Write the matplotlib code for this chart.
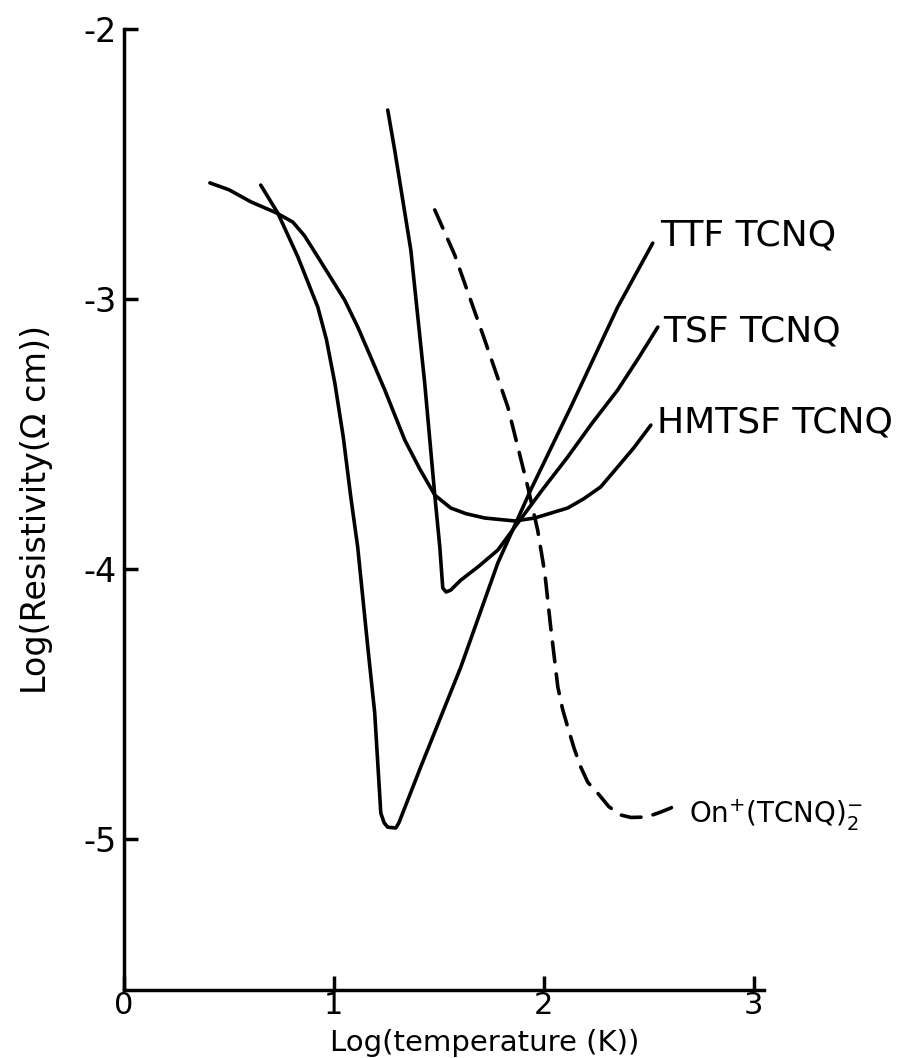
import numpy as np
import matplotlib
matplotlib.use('Agg')
import matplotlib.pyplot as plt

plt.rcParams['font.family'] = ['DejaVu Sans']
plt.rcParams['mathtext.fontset'] = 'dejavusans'
plt.rcParams['axes.unicode_minus'] = False

# log T / log rho values
hmtsf_x = [0.41, 0.5, 0.605, 0.724, 0.805, 0.86, 0.924, 1.052, 1.115, 1.176, 1.243, 1.338,
           1.41, 1.481, 1.557, 1.63, 1.719, 1.862, 1.957, 2.114, 2.19, 2.271, 2.352, 2.43, 2.51]
hmtsf_y = [-2.57, -2.595, -2.64, -2.68, -2.715, -2.765, -2.844, -3.004, -3.105, -3.215, -3.337, -3.522,
           -3.63, -3.726, -3.774, -3.795, -3.811, -3.822, -3.811, -3.774, -3.74, -3.696, -3.622, -3.55, -3.467]

ttf_x = [0.652, 0.733, 0.829, 0.924, 0.965, 1.005, 1.045, 1.081, 1.114, 1.162, 1.195, 1.224,
         1.24, 1.257, 1.295, 1.31, 1.414, 1.605, 1.781, 1.938, 2.129, 2.352, 2.519]
ttf_y = [-2.578, -2.681, -2.844, -3.03, -3.15, -3.311, -3.51, -3.733, -3.919, -4.289, -4.533, -4.904,
         -4.94, -4.956, -4.959, -4.94, -4.733, -4.363, -3.978, -3.707, -3.4, -3.03, -2.793]

tsf_x = [1.257, 1.29, 1.367, 1.433, 1.481, 1.505, 1.519, 1.535, 1.557, 1.605, 1.69, 1.781,
         1.876, 1.99, 2.114, 2.23, 2.352, 2.45, 2.543]
tsf_y = [-2.3, -2.448, -2.819, -3.311, -3.726, -3.919, -4.07, -4.085, -4.078, -4.041, -3.99, -3.93,
         -3.83, -3.71, -3.585, -3.46, -3.337, -3.22, -3.104]

on_x = [1.481, 1.576, 1.719, 1.829, 1.924, 1.971, 2.005, 2.033, 2.067, 2.09, 2.114, 2.145,
        2.176, 2.21, 2.257, 2.31, 2.367, 2.415, 2.462, 2.51, 2.557, 2.605, 2.652]
on_y = [-2.67, -2.837, -3.152, -3.4, -3.696, -3.856, -4.015, -4.215, -4.437, -4.52, -4.585, -4.665,
        -4.733, -4.79, -4.83, -4.88, -4.911, -4.92, -4.919, -4.913, -4.9, -4.885, -4.863]

labels = ['TTF TCNQ', 'TSF TCNQ', 'HMTSF TCNQ', r'On$^{+}$(TCNQ)$_{2}^{-}$']

fig = plt.figure(figsize=(8.97, 10.58), dpi=100)
ax = fig.add_axes([0.138, 0.06427, 0.714, 0.90832])

lw = 2.6
ax.plot(hmtsf_x, hmtsf_y, color='black', lw=lw, solid_joinstyle='round', solid_capstyle='round')
ax.plot(ttf_x, ttf_y, color='black', lw=lw, solid_joinstyle='round', solid_capstyle='round')
ax.plot(tsf_x, tsf_y, color='black', lw=lw, solid_joinstyle='round', solid_capstyle='round')
ax.plot(on_x, on_y, color='black', lw=lw, dashes=(5.5, 3.4), dash_capstyle='round')

# curve labels
ax.text(2.552, -2.763, labels[0], fontsize=26, va='center', ha='left')
ax.text(2.57, -3.122, labels[1], fontsize=26, va='center', ha='left')
ax.text(2.54, -3.456, labels[2], fontsize=26, va='center', ha='left')
ax.text(2.69, -4.94, labels[3], fontsize=20, va='baseline', ha='left')

ax.set_xlim(0, 3.05)
ax.set_ylim(-5.559, -2)
ax.set_xticks([0, 1, 2, 3])
ax.set_yticks([-2, -3, -4, -5])
ax.set_xticklabels(['0', '1', '2', '3'])
ax.set_yticklabels(['-2', '-3', '-4', '-5'])

for s in ['top', 'right']:
    ax.spines[s].set_visible(False)
for s in ['left', 'bottom']:
    ax.spines[s].set_linewidth(2.5)

ax.tick_params(direction='in', length=10, width=2.5)
ax.tick_params(axis='x', labelsize=22, pad=1)
ax.tick_params(axis='y', labelsize=24, pad=5)
ax.set_xlabel('Log(temperature (K))', fontsize=21, va='baseline')
ax.xaxis.set_label_coords(0.564, -0.0635)
ax.set_ylabel('Log(Resistivity(\u03a9 cm))', fontsize=24, va='center')
ax.yaxis.set_label_coords(-0.136, 0.5)

plt.savefig('out.png', dpi=100)
